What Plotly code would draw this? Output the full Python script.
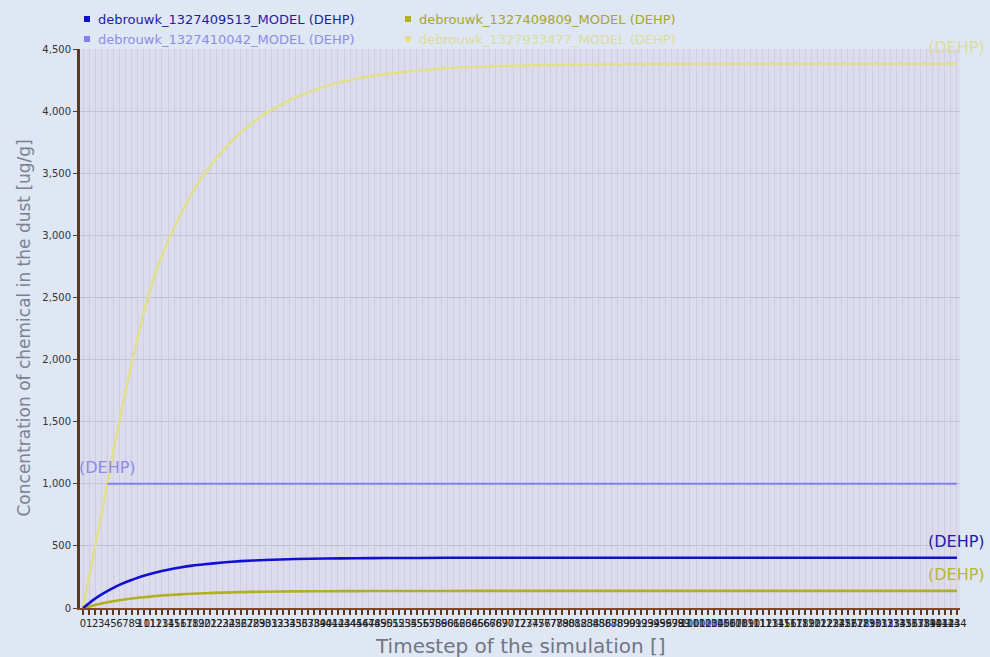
import plotly.graph_objects as go

# Simulation timesteps at which the model output is sampled
steps = [0, 1, 2, 3, 4, 5, 6, 7, 8, 9, 10, 12, 14, 16, 18, 20, 23, 26, 30, 35,
         40, 45, 50, 60, 70, 80, 90, 100, 110, 120, 130, 144]

# Dust concentrations (ug/g) for each model run
run_9513 = [0, 39, 75, 107, 136, 162, 186, 207, 226, 243, 259, 286, 308, 326, 341, 352,
            366, 377, 386, 394, 398, 401, 402, 404, 405, 405, 405, 405, 405, 405, 405, 405]
run_9809 = [0, 13, 25, 36, 46, 55, 63, 70, 76, 82, 87, 96, 104, 110, 115, 119,
            124, 128, 131, 134, 135, 136, 137, 137, 138, 138, 138, 138, 138, 138, 138, 138]
run_33477 = [0, 250, 500, 750, 1000, 1255, 1505, 1745, 1970, 2180, 2375, 2705, 2950, 3160,
             3340, 3495, 3680, 3830, 3980, 4110, 4200, 4260, 4300, 4345, 4365, 4373, 4377,
             4379, 4380, 4380, 4380, 4380]
steps_10042 = [4, 144]
run_10042 = [1000, 1000]

series = [
    ("debrouwk_1327409513_MODEL (DEHP)", steps, run_9513, "#1010d0", "#1c1ca8", 2.6),
    ("debrouwk_1327409809_MODEL (DEHP)", steps, run_9809, "#b0b020", "#a6a628", 2.6),
    ("debrouwk_1327410042_MODEL (DEHP)", steps_10042, run_10042, "#8080f0", "#8c8ce6", 2.0),
    ("debrouwk_1327933477_MODEL (DEHP)", steps, run_33477, "#e0e08c", "#dcdc9c", 2.6),
]

x_ticks = list(range(0, 145))
y_ticks = list(range(0, 4501, 500))

fig = go.Figure()
draw_order = [3, 2, 1, 0]
for i in draw_order:
    name, xs, ys, col, _, w = series[i]
    fig.add_trace(go.Scatter(x=xs, y=ys, mode="lines", name=name,
                             line=dict(color=col, width=w, shape="spline", smoothing=0.5),
                             showlegend=False))

# End-of-line labels
label_points = [
    (steps[-1], run_9513[-1], "#1c1ca8"),
    (steps[-1], run_9809[-1], "#b8b830"),
    (steps_10042[0], run_10042[0], "#8c8ce6"),
    (steps[-1], run_33477[-1], "#dcdc9c"),
]
for lx, ly, lc in label_points:
    fig.add_annotation(x=lx, y=ly, text="(DEHP)", showarrow=False, xanchor="center",
                       yanchor="middle", yshift=16,
                       font=dict(family="DejaVu Sans", size=16, color=lc))

# Legend (two columns, two rows)
def px_x(p):
    return (p - 80) / 880.0

def px_y(p):
    return (608 - p) / 559.0

legend_pos = [(84, 19), (405, 19), (84, 39), (405, 39)]
for (name, _, _, col, tcol, _), (lx, ly) in zip(series, legend_pos):
    fig.add_shape(type="rect", xref="paper", yref="paper",
                  x0=px_x(lx), x1=px_x(lx + 6), y0=px_y(ly - 3), y1=px_y(ly + 3),
                  fillcolor=col, line=dict(width=0))
    fig.add_annotation(xref="paper", yref="paper", x=px_x(lx + 12), y=px_y(ly),
                       text=name, showarrow=False, xanchor="left", yanchor="middle",
                       font=dict(family="DejaVu Sans", size=13, color=tcol))

# Axis titles
fig.add_annotation(xref="paper", yref="paper", x=0.5, y=px_y(646),
                   text="Timestep of the simulation []", showarrow=False,
                   xanchor="center", yanchor="middle",
                   font=dict(family="DejaVu Sans", size=20, color="#6f7684"))
fig.add_annotation(xref="paper", yref="paper", x=px_x(23), y=0.5,
                   text="Concentration of chemical in the dust [ug/g]", showarrow=False,
                   textangle=-90, xanchor="center", yanchor="middle",
                   font=dict(family="DejaVu Sans", size=17, color="#7a8290"))

fig.update_layout(
    width=990, height=657,
    margin=dict(l=80, r=30, t=49, b=49),
    paper_bgcolor="#dfe7f5",
    plot_bgcolor="#dddcef",
    showlegend=False,
    xaxis=dict(
        range=[-0.5, 144.5], tickmode="array", tickvals=x_ticks,
        ticktext=[str(v) for v in x_ticks], tickangle=0,
        tickfont=dict(family="DejaVu Sans", size=10, color="#222222"),
        showgrid=True, gridcolor="#d0cce2", gridwidth=1,
        showline=True, linecolor="#7a4a2a", linewidth=2,
        ticks="outside", ticklen=5, tickwidth=2, tickcolor="#5c3a21",
        zeroline=False, automargin=False, fixedrange=True,
    ),
    yaxis=dict(
        range=[0, 4500], tickmode="array", tickvals=y_ticks,
        ticktext=[f"{v:,}" for v in y_ticks],
        tickfont=dict(family="DejaVu Sans", size=10, color="#333333"),
        showgrid=True, gridcolor="#c4c4d2", gridwidth=1,
        showline=True, linecolor="#5c3a21", linewidth=3,
        ticks="outside", ticklen=4, tickwidth=1, tickcolor="#5c3a21",
        zeroline=False, automargin=False, fixedrange=True,
    ),
)

fig.write_html("out.html")
